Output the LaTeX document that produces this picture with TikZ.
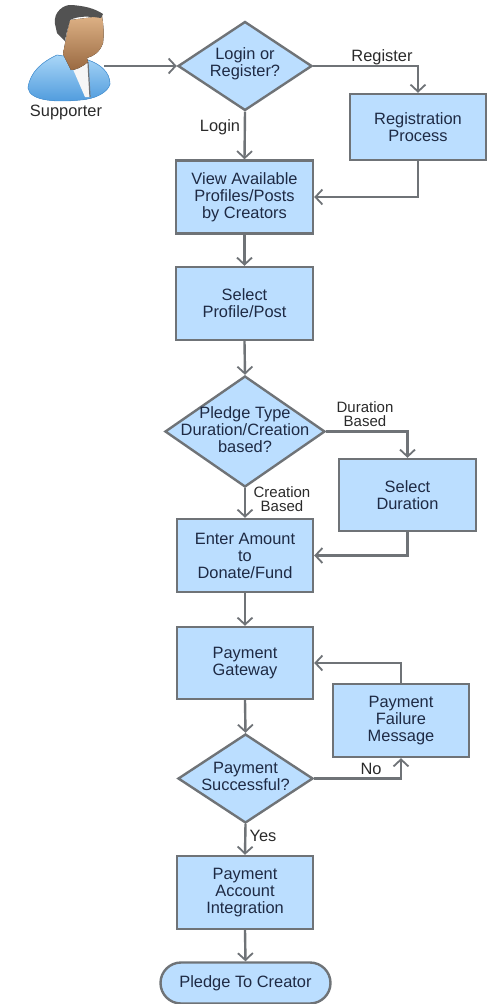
\documentclass[tikz,border=0pt]{standalone}
\usepackage{fontspec}
\setmainfont{Liberation Sans}
\usetikzlibrary{shapes}
\usetikzlibrary{arrows.meta}

\definecolor{boxblue}{HTML}{BBDEFF}
\definecolor{edgegray}{HTML}{6F7377}
\definecolor{boxtext}{HTML}{1E2A44}
\definecolor{labeltext}{HTML}{2A2A2A}
\definecolor{coatlight}{HTML}{A9D6F7}
\definecolor{coatdark}{HTML}{4F9BDD}
\definecolor{skinlight}{HTML}{DDB185}
\definecolor{skindark}{HTML}{9A6A42}

\newcommand{\dtext}[1]{\raisebox{-4.5pt}{\smash{\makebox[0pt]{\parbox{160pt}{\centering #1}}}}}

\tikzset{
  process/.style={draw=edgegray,fill=boxblue,line width=2.4pt,rectangle,inner sep=0pt,
    minimum width=136pt,minimum height=72pt,align=center,text=boxtext},
  decision/.style={draw=edgegray,fill=boxblue,line width=2.4pt,diamond,inner sep=0pt,text=boxtext},
  terminal/.style={draw=edgegray,fill=boxblue,line width=2.4pt,rounded rectangle,inner sep=0pt,
    minimum width=170pt,minimum height=41pt,text=boxtext},
  tag/.style={text=labeltext,align=center,inner sep=0pt},
  tighttag/.style={tag,font={\fontsize{15}{14}\selectfont}},
  link/.style={draw=edgegray,line width=2.4pt,-{Straight Barb[length=7pt,width=15pt,line width=1.8pt]}}
}

\begin{document}
\begin{tikzpicture}
[x=1pt,y=-1pt,font={\fontsize{16.4}{17}\selectfont}]

\clip (0,0) rectangle (487,1004);

% supporter
\fill[bottom color=coatdark,top color=coatlight,draw=coatdark,line width=.6pt] (28,88) .. controls (30,72) and (42,62) .. (57,55) -- (88,60) .. controls (100,64) and (110,72) .. (110,84) .. controls (108,92) and (96,99) .. (80,100) .. controls (60,102) and (30,102) .. (28,88) -- cycle; %body
\fill[white!93!gray] (72,67) -- (88,61) -- (90,97) -- (85,97) -- cycle; %shirt
\draw[edgegray,line width=1.2pt] (88,62) -- (90,97); %collar
\fill[top color=skinlight,bottom color=skindark] (70,20) -- (102,16) .. controls (104,28) and (104,36) .. (103,43) .. controls (100,52) and (94,56) .. (87,58) -- (88,62) .. controls (82,67) and (76,70) .. (71,70) -- (63,54) -- (67,33) -- cycle; %face
\fill[black!68] (55,24) .. controls (53,12) and (64,4) .. (72,5) .. controls (84,6) and (94,8) .. (103,14) -- (101,18) .. controls (88,16) and (78,16) .. (70,20) .. controls (68,28) and (66,34) .. (65,41) -- (57,33) -- cycle; %hair
\node[tag] (supporter) at (66,112) {Supporter};
\coordinate (hand) at (104,66);

\node[decision,minimum width=134pt,minimum height=89pt] (login) at (245,66) {\dtext{Login or\\Register?}};
\node[process,minimum height=66pt] (registration) at (418,127) {Registration\\Process};
\node[process,minimum width=137pt,minimum height=73pt] (profiles) at (244.5,197) {View Available\\Profiles/Posts\\by Creators};
\node[process,minimum width=137pt,minimum height=73pt] (select) at (244.5,303.5) {Select\\Profile/Post};
\node[decision,minimum width=160pt,minimum height=111pt] (pledge) at (245,431.5) {\dtext{Pledge Type\\Duration/Creation\\based?}};
\node[process,minimum width=137pt] (duration) at (407.5,495) {Select\\Duration};
\node[process,minimum height=73pt] (amount) at (245,555.5) {Enter Amount\\to\\Donate/Fund};
\node[process] (gateway) at (245,663) {Payment\\Gateway};
\node[process,minimum height=73pt] (failure) at (401,720.5) {Payment\\Failure\\Message};
\node[decision,minimum width=135pt,minimum height=89pt] (success) at (245.5,778.5) {\dtext{Payment\\Successful?}};
\node[process,minimum height=73pt] (account) at (245,892.5) {Payment\\Account\\Integration};
\node[terminal] (creator) at (245.5,983) {Pledge To Creator};

\draw[link] (hand) -- (login.west);
\draw[link] (login.east) -| (registration.north);
\draw[link] (login.south) -- (profiles.north);
\draw[link] (registration.south) |- (profiles.east);
\draw[link] (profiles.south) -- (select.north);
\draw[link] (select.south) -- (pledge.north);
\draw[link] (pledge.east) -| (duration.north);
\draw[link] (pledge.south) -- (amount.north);
\draw[link] (duration.south) |- (amount.east);
\draw[link] (amount.south) -- (gateway.north);
\draw[link] (gateway.south) -- (success.north);
\draw[link] (success.east) -| (failure.south);
\draw[link] (failure.north) |- (gateway.east);
\draw[link] (success.south) -- (account.north);
\draw[link] (account.south) -- (creator.north);

\node[tag] (register) at (382,57) {Register};
\node[tag] (loginlabel) at (220,127) {Login};
\node[tighttag] (durationlabel) at (365,414) {Duration\\Based};
\node[tighttag] (creationlabel) at (282,499.5) {Creation\\Based};
\node[tag] (no) at (371,769) {No};
\node[tag] (yes) at (263,836) {Yes};

\end{tikzpicture}
\end{document}
